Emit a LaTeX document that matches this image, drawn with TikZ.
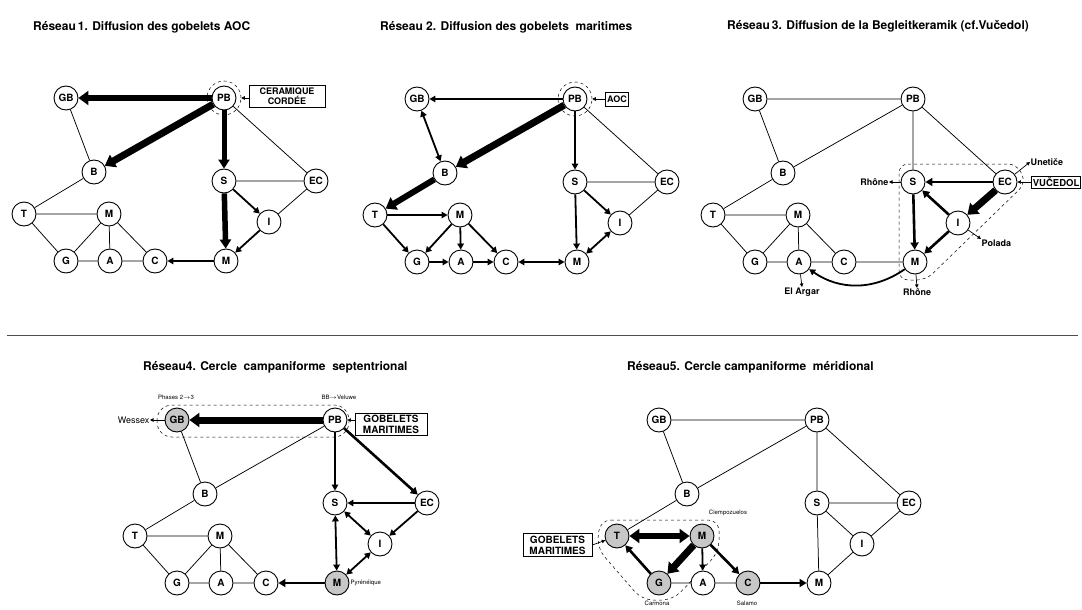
\documentclass[tikz,border=0pt]{standalone}
\usepackage{fontspec}
\setmainfont{TeX Gyre Heros}
\usetikzlibrary{arrows.meta}
\definecolor{shade}{gray}{0.78}
\newcommand\mknodes[1]{%
 \node[nd,stGB] (#1GB) at (-158,0) {GB};
 \node[nd,stPB] (#1PB) at (0,0) {PB};
 \node[nd,stB] (#1B) at (-130,74) {B};
 \node[nd,stS] (#1S) at (0,83) {S};
 \node[nd,stEC] (#1EC) at (92,83) {EC};
 \node[nd,stT] (#1T) at (-200,116) {T};
 \node[nd,stMa] (#1Ma) at (-115,116) {M};
 \node[nd,stI] (#1I) at (45,124) {I};
 \node[nd,stG] (#1G) at (-158,163) {G};
 \node[nd,stA] (#1A) at (-114,163) {A};
 \node[nd,stC] (#1C) at (-69,163) {C};
 \node[nd,stMb] (#1Mb) at (2,163) {M};
}
\begin{document}
\begin{tikzpicture}[x=1pt,y=-1pt,
 nd/.style={circle,draw,line width=0.9pt,minimum size=24pt,inner sep=0pt,fill=white,
   font=\fontsize{10}{10}\selectfont\bfseries},
 stGB/.style={},stPB/.style={},stB/.style={},stS/.style={},stEC/.style={},stT/.style={},
 stMa/.style={},stI/.style={},stG/.style={},stA/.style={},stC/.style={},stMb/.style={},
 ttl/.style={anchor=west,inner sep=0pt,font=\fontsize{12}{12}\selectfont\bfseries},
 thin/.style={line width=0.75pt},
 med/.style={line width=1.8pt,-{Triangle[length=6pt,width=6.5pt]}},
 medd/.style={line width=1.8pt,{Triangle[length=6pt,width=6.5pt]}-{Triangle[length=6pt,width=6.5pt]}},
 mthick/.style={line width=2.6pt,-{Triangle[length=7pt,width=8pt]}},
 thick/.style={line width=5pt,-{Triangle[length=9pt,width=11pt]}},
 vthick/.style={line width=7pt,-{Triangle[length=10pt,width=14pt]}},
 vthickd/.style={line width=7pt,{Triangle[length=10pt,width=14pt]}-{Triangle[length=10pt,width=14pt]}},
 sm/.style={line width=0.7pt,-{Triangle[length=3.5pt,width=3.5pt]}},
 ring/.style={circle,draw,dashed,line width=0.5pt,minimum size=34pt,inner sep=0pt},
 bx/.style={draw,line width=0.7pt,inner sep=1.5pt,align=center,font=\fontsize{9}{8.5}\selectfont\bfseries},
 bxl/.style={draw,line width=0.7pt,inner sep=2pt,align=center,font=\fontsize{10}{11}\selectfont\bfseries},
 lab/.style={inner sep=0.5pt,font=\fontsize{9}{9}\selectfont\bfseries},
 tiny/.style={inner sep=0.5pt,font=\fontsize{6}{6}\selectfont},
 dsh/.style={dashed,line width=0.5pt}]
\useasboundingbox (0,0) rectangle (1082,610);

% separator
\draw[line width=1pt,black!70] (7,335) -- (1078,335);

% ---------- Panel 1 ----------
\node[ttl] (t1) at (33,27) {Réseau\,1. Diffusion des gobelets AOC};
\begin{scope}[shift={(224,98)}]
\node[ring] (aring) at (0,0) {};
\mknodes{a}
\node[bx,minimum width=76pt,minimum height=22pt] (abox) at (63,-2) {CERAMIQUE\\CORDÉE};
\end{scope}
\draw[thin] (aGB)--(aB) (aB)--(aT) (aT)--(aMa) (aT)--(aG) (aMa)--(aG) (aMa)--(aA) (aMa)--(aC)
 (aG)--(aA) (aA)--(aC) (aS)--(aEC) (aPB)--(aEC) (aEC)--(aI);
\draw[vthick,line width=6pt] (aPB)--(aGB);
\draw[vthick] (aPB)--(aB);
\draw[thick] (aPB)--(aS);
\draw[thick,line width=5.5pt] (aS)--(aMb);
\draw[med] (aS)--(aI);
\draw[med] (aI)--(aMb);
\draw[med] (aMb)--(aC);
\draw[sm] (abox.west |- aPB) -- (aring.east);

% ---------- Panel 2 ----------
\node[ttl] (t2) at (380,27) {Réseau 2. Diffusion des gobelets\ \ maritimes};
\begin{scope}[shift={(575,99)}]
\node[ring] (bring) at (0,0) {};
\mknodes{b}
\node[bx,minimum height=14pt] (bbox) at (42,0) {AOC};
\end{scope}
\draw[thin] (bPB)--(bEC) (bS)--(bEC) (bEC)--(bI);
\draw[vthick] (bPB)--(bB);
\draw[vthick,line width=6pt] (bB)--(bT);
\draw[med] (bPB)--(bGB);
\draw[medd] (bB)--(bGB);
\draw[med] (bT)--(bMa);
\draw[med] (bT)--(bG);
\draw[med] (bMa)--(bG);
\draw[med] (bMa)--(bA);
\draw[med] (bMa)--(bC);
\draw[med] (bG)--(bA);
\draw[med] (bA)--(bC);
\draw[medd] (bC)--(bMb);
\draw[med] (bPB)--(bS);
\draw[med] (bS)--(bMb);
\draw[med] (bS)--(bI);
\draw[medd] (bI)--(bMb);
\draw[sm] (bbox.west) -- (bring.east);

% ---------- Panel 3 ----------
\node[ttl] (t3) at (727,26) {Réseau\,3. Diffusion de la Begleitkeramik (cf.Vučedol)};
\draw[dsh,rounded corners=9pt] (899,164) -- (1017,164) -- (1026,183) -- (926,280) -- (899,280) -- cycle;
\begin{scope}[shift={(913,99)}]
\mknodes{c}
\end{scope}
\draw[thin] (cGB)--(cPB) (cGB)--(cB) (cB)--(cPB) (cB)--(cT) (cT)--(cMa) (cT)--(cG) (cMa)--(cG)
 (cMa)--(cA) (cMa)--(cC) (cG)--(cA) (cA)--(cC) (cC)--(cMb) (cPB)--(cS) (cPB)--(cEC);
\draw[vthick] (cEC)--(cI);
\draw[mthick] (cEC)--(cS);
\draw[mthick] (cI)--(cS);
\draw[mthick] (cS)--(cMb);
\draw[mthick] (cI)--(cMb);
\draw[med] (cMb) to[bend left=35] (cA);
\node[draw,line width=0.7pt,inner sep=1.5pt,anchor=west,minimum height=12pt,
  font=\fontsize{9.5}{9.5}\selectfont\bfseries] (cbox) at (1031,182) {VUČEDOL};
\draw[sm] (cbox.west) -- (cEC);
\node[lab,anchor=east] (crh) at (889,182) {Rhône};
\draw[sm] (cS) -- (crh.east);
\node[lab,anchor=west] (cun) at (1030,162) {Unetiče};
\draw[sm] (cEC) -- (cun.west);
\node[lab,anchor=west] (cpo) at (981,243) {Polada};
\draw[sm] (cI) -- (cpo.north west);
\node[lab] (cea) at (802,292) {El Argar};
\draw[sm] (cA) -- (cea.north);
\node[lab] (crb) at (917,292) {Rhône};
\draw[sm] (cMb) -- (crb.north);

% ---------- Panel 4 ----------
\node[ttl] (t4) at (143,367) {Réseau4. Cercle\ \ campaniforme\ \ septentrional};
\draw[dsh,rounded corners=15pt] (157,405) rectangle (349,437);
\begin{scope}[shift={(335,420)},stGB/.style={fill=shade},stMb/.style={fill=shade}]
\mknodes{d}
\node[bxl,minimum width=72pt] (dbox) at (56,4.5) {GOBELETS\\MARITIMES};
\end{scope}
\draw[thin] (dGB)--(dB) (dB)--(dPB) (dB)--(dT) (dT)--(dMa) (dT)--(dG) (dMa)--(dG) (dMa)--(dA)
 (dMa)--(dC) (dG)--(dA) (dA)--(dC);
\draw[vthick] (dPB)--(dGB);
\draw[mthick] (dMb)--(dC);
\draw[mthick] (dPB)--(dEC);
\draw[med] (dPB)--(dS);
\draw[med] (dEC)--(dS);
\draw[med] (dEC)--(dI);
\draw[medd] (dS)--(dI);
\draw[medd] (dS)--(dMb);
\draw[medd] (dI)--(dMb);
\draw[sm] (dbox.west |- dPB) -- (dPB);
\node[inner sep=0.5pt,anchor=east,font=\fontsize{9}{9}\selectfont] (dwe) at (150,420) {Wessex};
\draw[sm] (dGB) -- (dwe.east);
\node[tiny] (dph) at (176,397) {Phases 2$\rightarrow$3};
\node[tiny] (dbb) at (339,397) {BB$\rightarrow$Veluwe};
\node[tiny,anchor=west] (dpy) at (350,583) {Pyrénéique};

% ---------- Panel 5 ----------
\node[ttl] (t5) at (627,367) {Réseau5. Cercle campaniforme\ \ méridional};
\draw[dsh,rounded corners=11pt] (600,520) -- (719,520) -- (719,552) -- (673,600) -- (642,600) -- (597,548) -- cycle;
\begin{scope}[shift={(817,420)},stT/.style={fill=shade},stMa/.style={fill=shade},
  stG/.style={fill=shade},stC/.style={fill=shade}]
\mknodes{e}
\end{scope}
\draw[thin] (eGB)--(ePB) (eGB)--(eB) (eB)--(ePB) (eB)--(eT) (ePB)--(eS) (ePB)--(eEC) (eS)--(eEC)
 (eS)--(eI) (eEC)--(eI) (eS)--(eMb) (eI)--(eMb) (eG)--(eA) (eA)--(eC);
\draw[vthickd,line width=6pt] (eT)--(eMa);
\draw[vthick] (eMa)--(eG);
\draw[mthick] (eG)--(eT);
\draw[mthick] (eMa)--(eC);
\draw[mthick] (eC)--(eMb);
\draw[med] (eMa)--(eA);
\node[bxl,minimum width=69pt] (ebox) at (557.5,545) {GOBELETS\\MARITIMES};
\draw[sm] (ebox.east) -- (eT);
\node[tiny] (eci) at (728,513) {Ciempozuelos};
\node[tiny] (eca) at (657,603) {Carmona};
\node[tiny] (esa) at (747,603) {Salamo};
\end{tikzpicture}
\end{document}
